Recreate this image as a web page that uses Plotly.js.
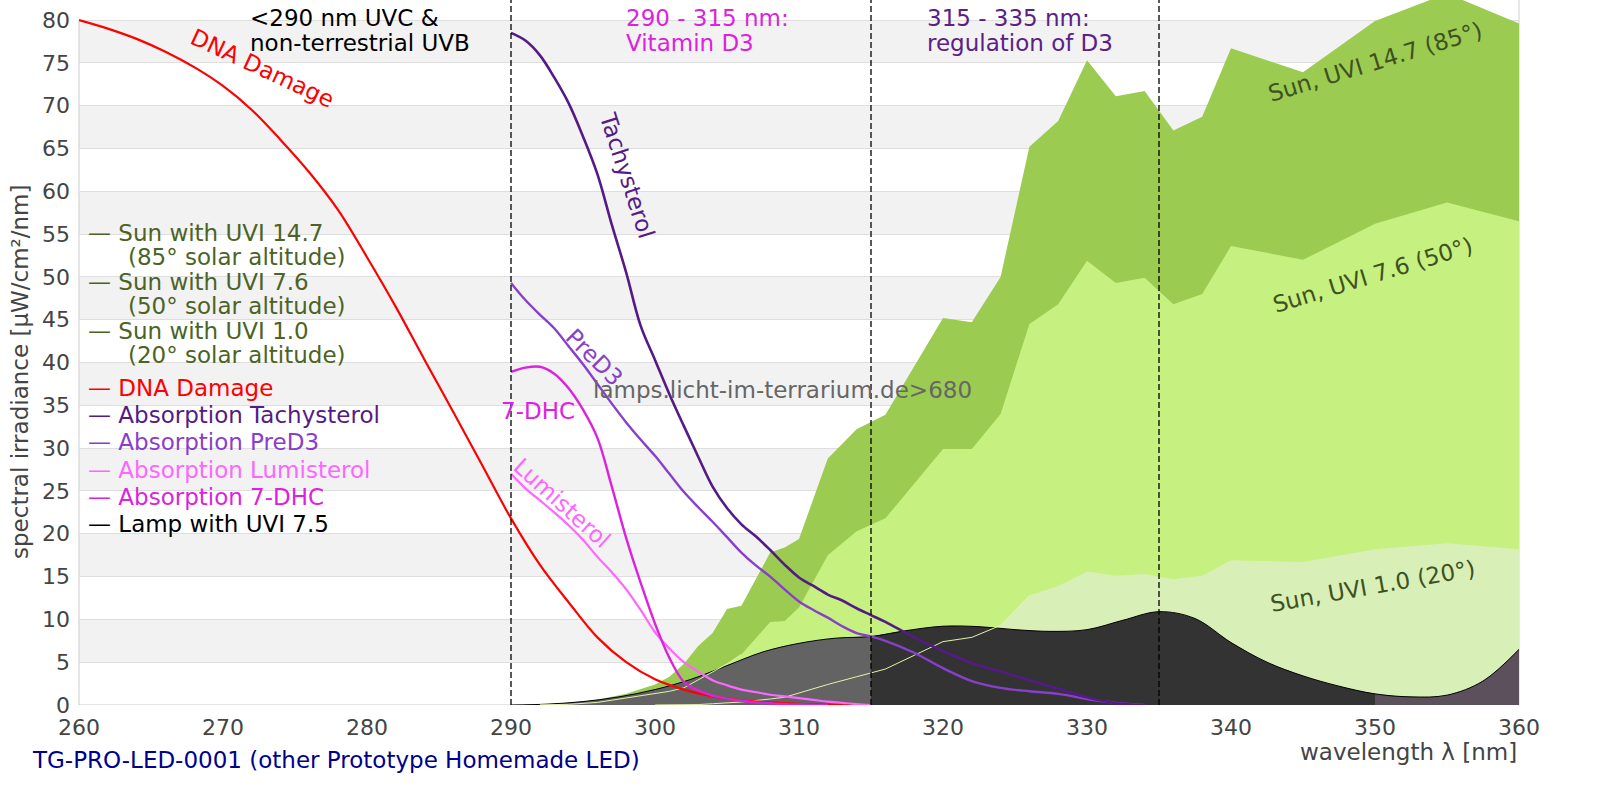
<!DOCTYPE html>
<html>
<head>
<meta charset="utf-8">
<script src="https://cdn.plot.ly/plotly-3.0.1.min.js"></script>
<style>
  html, body { margin: 0; padding: 0; background: #fff; }
  #chart { width: 1600px; height: 800px; }
</style>
</head>
<body>
<div id="chart"></div>
<script>
/* ── Sun spectra (filled areas) ───────────────────────────── */
const SUN_WL = [292, 294, 296, 298, 300, 301, 302, 303, 304, 305, 306, 308, 309, 310, 312, 314, 316,
                318, 320, 322, 324, 326, 328, 330, 332, 334, 336, 338, 340, 345, 350, 355, 360];
const sun147 = [0.05, 0.2, 0.6, 1.3, 2.4, 3.3, 4.8, 6.9, 8.4, 11.2, 11.6, 17.8, 18.4, 19.4, 28.8, 32.2, 33.9,
                39.5, 45.2, 44.7, 50.0, 65.2, 68.2, 75.3, 71.1, 71.7, 67.1, 68.7, 76.7, 73.9, 79.9, 83.1, 79.6];
const sun76  = [0.02, 0.08, 0.3, 0.8, 1.3, 1.6, 2.0, 2.9, 3.8, 4.8, 5.9, 9.7, 9.8, 11.4, 17.5, 20.3, 21.8,
                25.9, 29.9, 29.9, 34.0, 44.5, 46.8, 51.9, 49.3, 49.9, 46.8, 48.0, 53.6, 52.0, 56.2, 58.7, 56.5];
const sun10  = [0, 0, 0, 0, 0, 0, 0, 0.05, 0.15, 0.25, 0.35, 0.7, 0.9, 1.4, 2.4, 3.3, 4.2,
                5.8, 7.4, 7.9, 9.3, 12.8, 13.9, 15.6, 15.1, 15.3, 14.7, 15.1, 16.9, 16.7, 18.2, 18.9, 18.2];

/* ── Lamp spectrum ────────────────────────────────────────── */
const LAMP_WL = [290, 292.5, 295, 297.5, 300, 302.5, 305, 307.5, 310, 312.5, 315, 317.5, 320, 322.5, 325,
                 327.5, 330, 332.5, 335, 337.5, 340, 342.5, 345, 347.5, 350, 352.5, 355, 357.5, 360];
const lamp   = [0.0, 0.1, 0.4, 0.95, 1.8, 3.0, 4.6, 6.2, 7.2, 7.8, 8.0, 8.7, 9.2, 9.15, 8.8,
                8.6, 8.8, 9.9, 10.9, 10.1, 7.3, 5.0, 3.4, 2.2, 1.3, 0.95, 1.15, 2.8, 6.5];

/* ── Action spectra ───────────────────────────────────────── */
const DNA_WL = [260, 262, 264, 266, 268, 270, 272, 274, 276, 278, 280, 282, 284, 286,
                288, 290, 292, 294, 296, 298, 300, 302, 304, 306, 308, 310, 312, 314];
const dna    = [80, 79.0, 77.8, 76.3, 74.5, 72.3, 69.5, 66.0, 62.2, 57.8, 52.3, 46.5, 40.3, 34.2,
                28.0, 21.8, 16.4, 12.0, 7.9, 5.0, 3.0, 1.8, 1.0, 0.55, 0.3, 0.12, 0.05, 0];

const ABS_WL = [290, 291, 292, 293, 294, 295, 296, 297, 298, 299, 300, 301, 302, 303, 304, 305, 306, 307,
                308, 309, 310, 311, 312, 313, 314, 315, 316, 318, 320, 322, 324, 326, 328, 330, 332, 334];
const tachysterol = [78.5, 77.6, 75.9, 73.3, 70.3, 66.4, 62.0, 56.1, 50.5, 44.3, 40.3, 36.3, 32.6, 29.0, 25.5, 23.0, 21.1, 19.7,
                     18.1, 16.4, 14.9, 13.9, 12.9, 12.2, 11.3, 10.5, 9.7, 7.9, 6.3, 4.9, 3.9, 2.9, 1.9, 0.9, 0.2, 0];
const preD3       = [49.3, 47.3, 45.6, 44.0, 41.9, 39.8, 37.5, 35.2, 33.0, 31.0, 29.1, 27.0, 24.9, 23.1, 21.4, 19.6, 17.8, 16.3,
                     15.0, 13.5, 12.1, 11.1, 10.2, 9.2, 8.4, 8.0, 7.5, 6.1, 4.3, 2.8, 2.0, 1.6, 1.3, 0.7, 0.25, 0];
const lumisterol  = [27.0, 25.3, 23.9, 22.5, 21.0, 19.3, 17.3, 15.5, 13.5, 11.1, 8.5, 6.6, 5.0, 3.9, 2.9, 2.3, 1.8, 1.5,
                     1.2, 1.0, 0.8, 0.6, 0.4, 0.25, 0.1, 0, null, null, null, null, null, null, null, null, null, null];
const dhc7        = [38.9, 39.4, 39.5, 38.7, 37.0, 34.5, 31.2, 25.5, 19.5, 14.3, 9.5, 5.5, 2.7, 1.7, 1.1, 0.75, 0.5, 0.3,
                     0.2, 0.1, 0.05, 0.02, 0, null, null, null, null, null, null, null, null, null, null, null, null, null];

/* ── Colours ──────────────────────────────────────────────── */
const C = {
  sun147: '#9bcb50', sun76: '#c6f080', sun10: '#d9efb8', sunLine: '#e2f4a8',
  lampA: '#636363', lampB: '#333333', lampC: '#5d505d',
  dna: '#ff0000', tachy: '#541b86', pre: '#8840cc', lumi: '#ff66ff', dhc: '#dd22dd',
  legendSun: '#4b6324', sunText: '#3e5220', region315: '#5b2088'
};
const FONT = 'DejaVu Sans, Verdana, sans-serif';
const FS = 23;

/* ── Pixel → paper helpers (plot area: x 79..1519, y 0..705) ─ */
const PX0 = 79, PW = 1440, PY0 = 705, PH = 705;
const px = x => (x - PX0) / PW;
const py = y => (PY0 - y) / PH;

function slice(xs, ys, lo, hi) {
  const ox = [], oy = [];
  xs.forEach((x, i) => { if (x >= lo && x <= hi) { ox.push(x); oy.push(ys[i]); } });
  return { x: ox, y: oy };
}

function area(xs, ys, color, shape) {
  return { x: xs, y: ys, type: 'scatter', mode: 'lines', fill: 'tozeroy', fillcolor: color,
           line: { width: 0, color: color, shape: shape || 'linear' }, hoverinfo: 'skip' };
}
function curve(xs, ys, color, width, shape) {
  return { x: xs, y: ys, type: 'scatter', mode: 'lines',
           line: { width: width, color: color, shape: shape || 'linear' }, hoverinfo: 'skip' };
}

const segA = slice(LAMP_WL, lamp, 290, 315);
const segB = slice(LAMP_WL, lamp, 315, 350);
const segC = slice(LAMP_WL, lamp, 350, 360);
const line76 = slice(SUN_WL, sun76, 292, 306);
const line10 = slice(SUN_WL, sun10, 300, 326);

const traces = [
  area(SUN_WL, sun147, C.sun147),
  area(SUN_WL, sun76, C.sun76),
  area(SUN_WL, sun10, C.sun10),
  area(segA.x, segA.y, C.lampA, 'spline'),
  area(segB.x, segB.y, C.lampB, 'spline'),
  area(segC.x, segC.y, C.lampC, 'spline'),
  curve(LAMP_WL, lamp, '#000000', 1, 'spline'),
  curve(line76.x, line76.y, C.sunLine, 1),
  curve(line10.x, line10.y, C.sunLine, 1),
  curve(DNA_WL, dna, C.dna, 2.2, 'spline'),
  curve(ABS_WL, lumisterol, C.lumi, 2.2, 'spline'),
  curve(ABS_WL, dhc7, C.dhc, 2.4, 'spline'),
  curve(ABS_WL, preD3, C.pre, 2.4, 'spline'),
  curve(ABS_WL, tachysterol, C.tachy, 2.6, 'spline')
];

/* ── Background bands, frame & region markers ─────────────── */
const shapes = [];
for (let b = 5; b < 80; b += 10) {
  shapes.push({ type: 'rect', xref: 'paper', x0: 0, x1: 1, yref: 'y', y0: b, y1: b + 5,
                fillcolor: '#f2f2f2', line: { width: 0 }, layer: 'below' });
}
shapes.push(
  { type: 'line', xref: 'paper', x0: 0, x1: 0, yref: 'y', y0: 0, y1: 80,
    line: { color: '#cccccc', width: 1 }, layer: 'below' },
  { type: 'line', xref: 'paper', x0: 1, x1: 1, yref: 'paper', y0: 0, y1: 1,
    line: { color: '#d0d0d0', width: 1 }, layer: 'below' },
  { type: 'line', xref: 'paper', x0: 0, x1: 1, yref: 'y', y0: 0, y1: 0,
    line: { color: '#cccccc', width: 1 }, layer: 'below' }
);
[290, 315, 335].forEach(w => shapes.push({
  type: 'line', xref: 'x', x0: w, x1: w, yref: 'paper', y0: 0, y1: 1,
  line: { color: '#000', width: 1.3, dash: '6px,3px' }, layer: 'above'
}));

/* ── Text ─────────────────────────────────────────────────── */
function txt(x, y, text, color, opts) {
  return Object.assign({
    xref: 'paper', yref: 'paper', x: px(x), y: py(y), text: text, showarrow: false,
    xanchor: 'left', yanchor: 'middle', align: 'left',
    font: { family: FONT, size: FS, color: color }
  }, opts || {});
}
const mid = { xanchor: 'center' };

const legendRows = [
  [86, 233, '— Sun with UVI 14.7', C.legendSun],
  [126, 257, '(85° solar altitude)', C.legendSun],
  [86, 282, '— Sun with UVI 7.6', C.legendSun],
  [126, 306, '(50° solar altitude)', C.legendSun],
  [86, 331, '— Sun with UVI 1.0', C.legendSun],
  [126, 355, '(20° solar altitude)', C.legendSun],
  [86, 388, '— DNA Damage', C.dna],
  [86, 415, '— Absorption Tachysterol', C.tachy],
  [86, 442, '— Absorption PreD3', C.pre],
  [86, 470, '— Absorption Lumisterol', C.lumi],
  [86, 497, '— Absorption 7-DHC', C.dhc],
  [86, 524, '— Lamp with UVI 7.5', '#000000']
];

const regionRows = [
  [248, 18, '&lt;290 nm UVC &amp;', '#000000'],
  [248, 43, 'non-terrestrial UVB', '#000000'],
  [624, 18, '290 - 315 nm:', C.dhc],
  [624, 43, 'Vitamin D3', C.dhc],
  [925, 18, '315 - 335 nm:', C.region315],
  [925, 43, 'regulation of D3', C.region315]
];

const annotations = legendRows.concat(regionRows).map(r => txt(r[0], r[1], r[2], r[3]));
annotations.push(
  txt(782, 390, 'lamps.licht-im-terrarium.de&gt;680', '#666666', mid),
  txt(262, 68, 'DNA Damage', C.dna, Object.assign({ textangle: 25 }, mid)),
  txt(627, 175, 'Tachysterol', C.tachy, Object.assign({ textangle: 72 }, mid)),
  txt(594, 357, 'PreD3', C.pre, Object.assign({ textangle: 45 }, mid)),
  txt(538, 411, '7-DHC', C.dhc, mid),
  txt(562, 503, 'Lumisterol', C.lumi, Object.assign({ textangle: 42 }, mid)),
  txt(1375, 62, 'Sun, UVI 14.7 (85°)', C.sunText, Object.assign({ textangle: -17 }, mid)),
  txt(1373, 275, 'Sun, UVI 7.6 (50°)', C.sunText, Object.assign({ textangle: -17 }, mid)),
  txt(1373, 586, 'Sun, UVI 1.0 (20°)', C.sunText, Object.assign({ textangle: -10 }, mid)),
  txt(1519, 752, 'wavelength λ [nm]', '#444444', { xanchor: 'right' }),
  txt(20, 372, 'spectral irradiance [µW/cm²/nm]', '#444444', Object.assign({ textangle: -90 }, mid)),
  txt(30, 760, 'TG-PRO-LED-0001 (other Prototype Homemade LED)', '#00008b')
);

const layout = {
  width: 1600, height: 800,
  margin: { l: 79, r: 81, t: 0, b: 95 },
  paper_bgcolor: '#ffffff', plot_bgcolor: '#ffffff',
  showlegend: false,
  font: { family: FONT, size: 22, color: '#444444' },
  xaxis: {
    range: [260, 360], dtick: 10, tick0: 260, showgrid: false, zeroline: false,
    showline: false, ticks: '', ticklabelstandoff: 7,
    tickfont: { family: FONT, size: 22, color: '#444444' }
  },
  yaxis: {
    range: [0, 82.34], dtick: 5, tick0: 0, showgrid: true, gridcolor: '#dedede', gridwidth: 1,
    zeroline: false, showline: false, ticks: '',
    ticklabelstandoff: 8, tickfont: { family: FONT, size: 22, color: '#444444' }
  },
  shapes: shapes,
  annotations: annotations
};

Plotly.newPlot('chart', traces, layout, { displayModeBar: false, staticPlot: true });
</script>
</body>
</html>
